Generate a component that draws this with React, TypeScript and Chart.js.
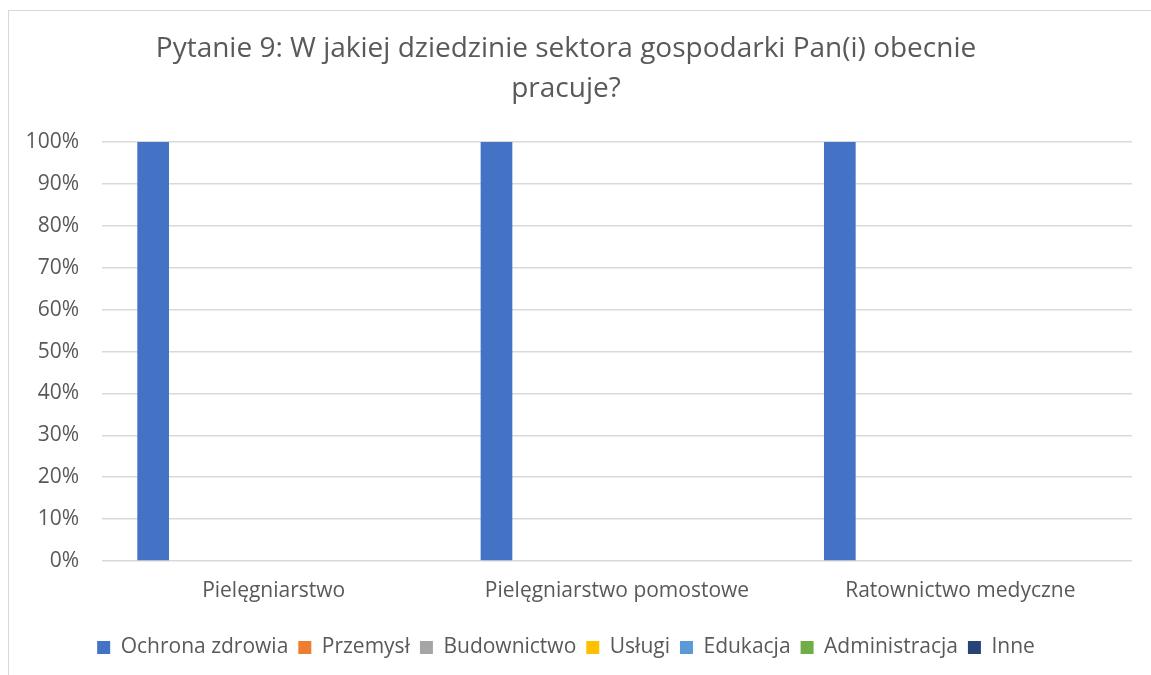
import React, { useEffect, useRef } from "react";
import { Chart, registerables } from "chart.js";

Chart.register(...registerables);

const categories = ["Pielęgniarstwo", "Pielęgniarstwo pomostowe", "Ratownictwo medyczne"];
const seriesNames = ["Ochrona zdrowia", "Przemysł", "Budownictwo", "Usługi", "Edukacja", "Administracja", "Inne"];
const seriesColors = ["#4472C4", "#ED7D31", "#A5A5A5", "#FFC000", "#5B9BD5", "#70AD47", "#264478"];
const ochronaZdrowia = [1, 1, 1];
const przemysl = [0, 0, 0];
const budownictwo = [0, 0, 0];
const uslugi = [0, 0, 0];
const edukacja = [0, 0, 0];
const administracja = [0, 0, 0];
const inne = [0, 0, 0];
const seriesValues = [ochronaZdrowia, przemysl, budownictwo, uslugi, edukacja, administracja, inne];
const titleLines = ["Pytanie 9: W jakiej dziedzinie sektora gospodarki Pan(i) obecnie", "pracuje?"];

const FONT = "'Open Sans', 'Noto Sans', sans-serif";
const TEXT = "#595959";

export default function App() {
  const ref = useRef<HTMLCanvasElement>(null);
  useEffect(() => {
    document.body.style.overflow = "hidden";
    const chart = new Chart(ref.current!, {
      type: "bar",
      data: {
        labels: categories,
        datasets: seriesNames.map((name, i) => ({
          label: name,
          data: seriesValues[i],
          backgroundColor: seriesColors[i],
          borderWidth: 0,
          categoryPercentage: 0.819,
          barPercentage: 0.789,
        })),
      },
      options: {
        animation: false,
        responsive: false,
        layout: { padding: { left: 0, right: 19, top: 20, bottom: 7 } },
        plugins: {
          tooltip: { enabled: false },
          title: {
            display: true,
            text: titleLines,
            color: TEXT,
            font: { family: FONT, size: 28, weight: "normal", lineHeight: 1.43 },
            padding: { top: 9, bottom: 33 },
          },
          legend: {
            position: "bottom",
            labels: {
              color: TEXT,
              font: { family: FONT, size: 21 },
              boxWidth: 13,
              boxHeight: 13,
              padding: 10,
            },
          },
        },
        scales: {
          x: {
            grid: { display: false },
            border: { display: false },
            ticks: { color: TEXT, font: { family: FONT, size: 21 }, padding: 9 },
            afterFit: (s: any) => { s.height = 66; },
          },
          y: {
            min: 0,
            max: 1,
            grid: { color: "#d9d9d9", lineWidth: 1.5, drawTicks: false },
            border: { display: false },
            ticks: {
              stepSize: 0.1,
              color: TEXT,
              font: { family: FONT, size: 21 },
              padding: 23,
              callback: (v: any) => Math.round(Number(v) * 100) + "%",
            },
            afterFit: (s: any) => { s.width = 102; },
          },
        },
      },
    });
    return () => chart.destroy();
  }, []);
  return (
    <div>
      <div style={{ position: "fixed", left: 8, top: 10, width: 1143, height: 665, borderTop: "1.5px solid #d9d9d9", borderLeft: "1.5px solid #d9d9d9", boxSizing: "border-box" }} />
      <canvas ref={ref} width={1151} height={675} style={{ position: "fixed", left: 0, top: 0, width: 1151, height: 675 }} />
    </div>
  );
}
